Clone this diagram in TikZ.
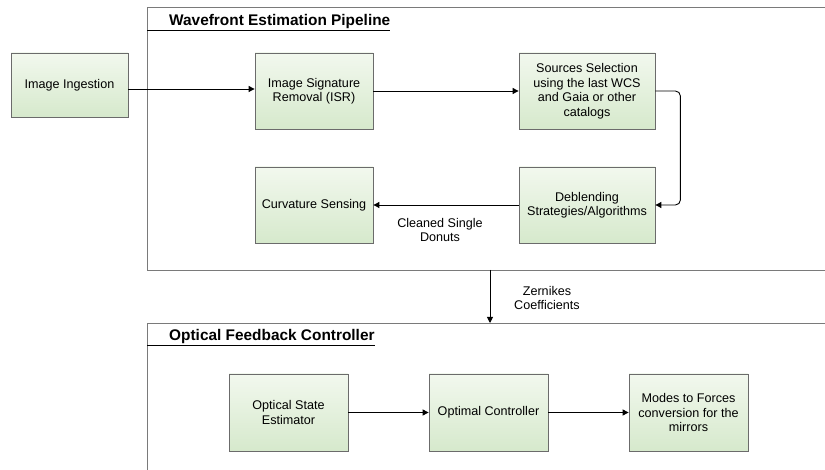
\documentclass[tikz,border=0pt]{standalone}
\usepackage{fontspec}
\setmainfont{Liberation Sans}
\usetikzlibrary{arrows.meta,calc}
\definecolor{framegray}{HTML}{7A7A7A}
\definecolor{boxborder}{HTML}{6B6B6B}
\definecolor{boxtop}{HTML}{F2F8EE}
\definecolor{boxbot}{HTML}{D6E9CC}
\tikzset{
  procbox/.style={draw=boxborder, line width=0.8pt, top color=boxtop, bottom color=boxbot,
    align=center, inner sep=2pt, font=\fontsize{12.6}{14.5}\selectfont},
  conn/.style={line width=0.9pt, -{Triangle[length=6pt,width=6pt]}},
  frameline/.style={draw=framegray, line width=0.9pt},
  lbl/.style={align=center, font=\fontsize{12.6}{14.5}\selectfont},
  hdr/.style={anchor=base west, inner sep=0pt, font=\fontsize{15.4}{17}\selectfont\bfseries}
}
\begin{document}
\begin{tikzpicture}[x=1pt,y=-1pt]
\useasboundingbox (0,0) rectangle (825,470);
% frames
\draw[frameline] (825,7) -- (147,7) -- (147,270) -- (825,270);
\draw[frameline] (825,323) -- (147,323) -- (147,470);
% headers
\node[hdr] (h1) at (169,26) {Wavefront Estimation Pipeline};
\draw[line width=0.8pt] (147,30) -- (h1.base east |- 0,30);
\node[hdr] (h2) at (169,341) {Optical Feedback Controller};
\draw[line width=0.8pt] (147,345.5) -- (h2.base east |- 0,345.5);
% boxes
\node[procbox, minimum width=117pt, minimum height=64pt] (ing) at (69.5,85) {Image Ingestion};
\node[procbox, minimum width=118pt, minimum height=76pt] (isr) at (314,91) {Image Signature\\Removal (ISR)};
\node[procbox, minimum width=136pt, minimum height=76pt] (src) at (587,91) {Sources Selection\\using the last WCS\\and Gaia or other\\catalogs};
\node[procbox, minimum width=136pt, minimum height=76pt] (deb) at (587,205) {Deblending\\Strategies/Algorithms};
\node[procbox, minimum width=118pt, minimum height=76pt] (curv) at (314,205) {Curvature Sensing};
\node[procbox, minimum width=119pt, minimum height=77pt] (ose) at (288.5,412.5) {Optical State\\Estimator};
\node[procbox, minimum width=119pt, minimum height=77pt] (oc) at (488.5,412.5) {Optimal Controller};
\node[procbox, minimum width=119pt, minimum height=77pt] (mf) at (688.5,412.5) {Modes to Forces\\conversion for the\\mirrors};
% connectors
\draw[conn] ([yshift=-4pt]ing.east) -- ([yshift=-4pt]ing.east -| isr.west);
\draw[conn] (isr.east) -- (src.west);
\draw[conn, rounded corners=5pt] (src.east) -| ([xshift=25pt]deb.east) -- (deb.east);
\draw[conn] (deb.west) -- (curv.east);
\node[lbl] (cl) at (440,230) {Cleaned Single\\Donuts};
\coordinate (z1) at (490,270);
\coordinate (z2) at (490,323);
\draw[conn] (z1) -- (z2);
\node[lbl] (zl) at (547,298) {Zernikes\\Coefficients};
\draw[conn] (ose.east) -- (oc.west);
\draw[conn] (oc.east) -- (mf.west);
\end{tikzpicture}
\end{document}
